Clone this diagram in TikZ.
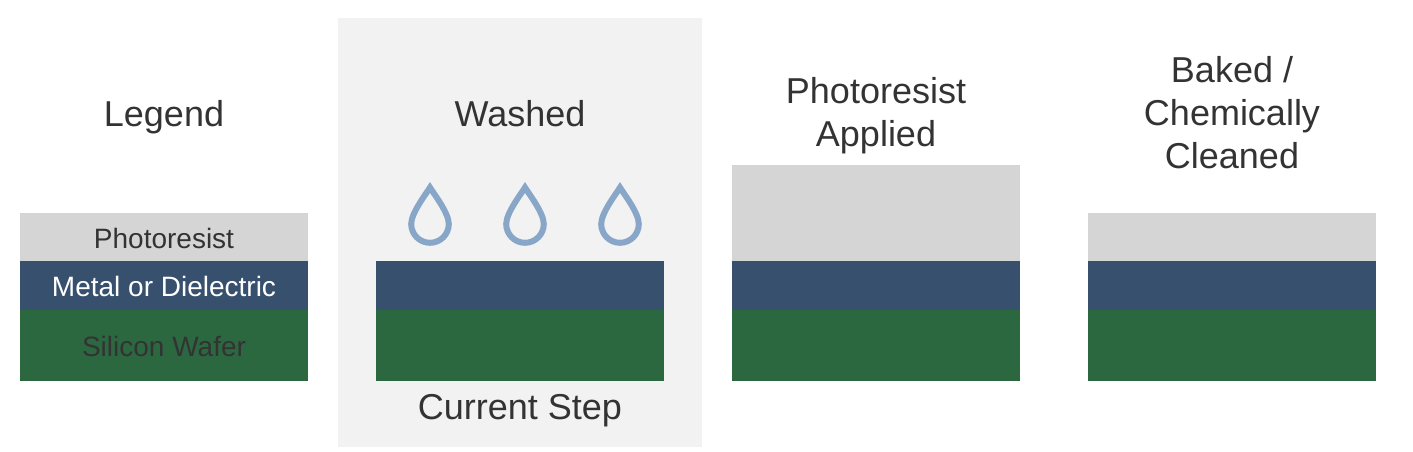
\documentclass[tikz,border=0pt]{standalone}
\usepackage{fontspec}
\setmainfont{Liberation Sans}
\newlength{\du}
\setlength{\du}{1pt}
\definecolor{resistcolor}{HTML}{D5D5D5}
\definecolor{metalcolor}{HTML}{36506E}
\definecolor{siliconcolor}{HTML}{2B6840}
\definecolor{stepcolor}{HTML}{F2F2F2}
\definecolor{dropcolor}{HTML}{87A6C8}
\definecolor{textcolor}{HTML}{333333}
\tikzset{
  layer/.style={anchor=north west,inner sep=0pt,outer sep=0pt,minimum width=288\du},
  resist/.style={layer,fill=resistcolor,text=textcolor},
  metal/.style={layer,fill=metalcolor,minimum height=49\du,text=white},
  silicon/.style={layer,fill=siliconcolor,minimum height=71\du,text=textcolor},
  small/.style={font=\fontsize{28\du}{34\du}\selectfont,text height=22\du,text depth=0\du},
  title/.style={font=\fontsize{36\du}{43\du}\selectfont,text=textcolor,align=center},
  drop/.style={draw=dropcolor,line width=6\du,miter limit=10},
}
\begin{document}
\begin{tikzpicture}[x=1\du,y=-1\du]
\useasboundingbox (0,0) rectangle (1413,452);
% current step panel
\fill[stepcolor] (338,18) rectangle (702,447);
% legend
\node[resist,small,minimum height=48\du] (legendresist) at (20,213){Photoresist};
\node[metal,small] (legendmetal) at (20,261){Metal or Dielectric};
\node[silicon,small] (legendsilicon) at (20,310){Silicon Wafer};
% washed
\node[metal] (washedmetal) at (376,261){};
\node[silicon] (washedsilicon) at (376,310){};
% photoresist applied
\node[resist,minimum height=96\du] (appliedresist) at (732,165){};
\node[metal] (appliedmetal) at (732,261){};
\node[silicon] (appliedsilicon) at (732,310){};
% baked
\node[resist,minimum height=48\du] (bakedresist) at (1088,213){};
\node[metal] (bakedmetal) at (1088,261){};
\node[silicon] (bakedsilicon) at (1088,310){};
% titles
\node[title] (legendtitle) at (164,117){Legend};
\node[title] (washedtitle) at (520,114){Washed};
\node[title] (appliedtitle) at (876,116){Photoresist\\Applied};
\node[title] (bakedtitle) at (1232,113){Baked /\\Chemically\\Cleaned};
\node[title] (steplabel) at (520,411){Current Step};
% drops
\foreach \x in {430,525,620}{
\draw[drop] (\x,187.5) .. controls (\x+4,194) and (\x+18.8,213) .. (\x+18.8,224)
  arc[start angle=0,end angle=180,radius=18.8\du,y radius=-18.8\du]
  .. controls (\x-18.8,213) and (\x-4,194) .. cycle;
}
\end{tikzpicture}
\end{document}
